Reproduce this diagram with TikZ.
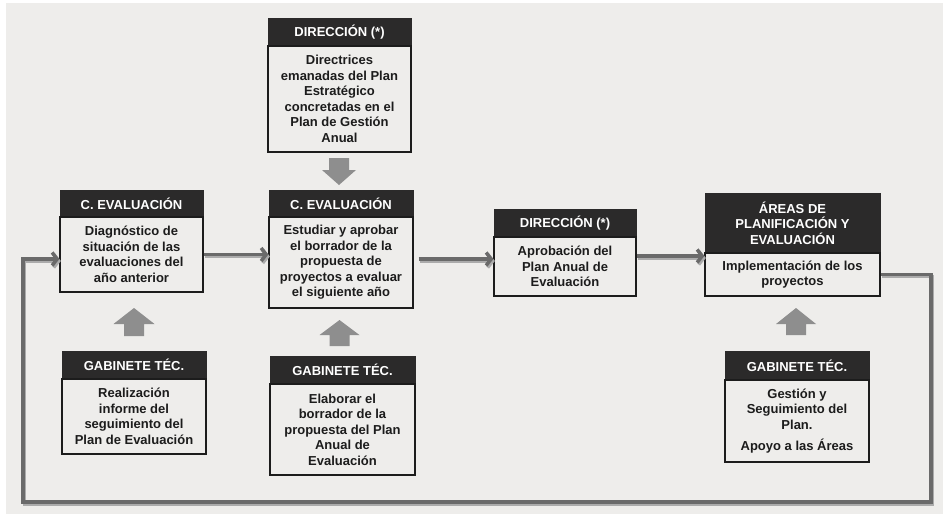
\documentclass[tikz,border=0pt]{standalone}
\usepackage{fontspec}
\setmainfont{Liberation Sans}
\usetikzlibrary{arrows.meta,calc}
\definecolor{bgc}{HTML}{EEEDEB}
\definecolor{hdc}{HTML}{2B2A2A}
\definecolor{lnc}{HTML}{6A6A6A}
\definecolor{shc}{HTML}{ABABAB}
\definecolor{blk}{HTML}{8E8E8E}
\definecolor{txc}{HTML}{1C1C1C}
\newcommand\blkup[5]{% cx, top, base, bottom, halfhead
  \fill[blk] (#1-#5,#3) -- (#1,#2) -- (#1+#5,#3) -- (#1+10,#3) -- (#1+10,#4) -- (#1-10,#4) -- (#1-10,#3) -- cycle;}
\begin{document}
\begin{tikzpicture}[x=1pt,y=-1pt,
  hdr/.style={fill=hdc,draw=hdc,line width=0.8pt,text=white,inner sep=0pt,align=center,
    font=\bfseries\fontsize{13}{15.3}\selectfont},
  bodybox/.style={fill=bgc,draw=txc,line width=1.3pt,text=txc,inner sep=0pt,align=center,
    font=\bfseries\fontsize{13}{15.5}\selectfont},
  conn/.style={draw=lnc,line width=3.5pt,line join=miter,
    -{Straight Barb[length=5pt,width=13pt]},
    preaction={draw=shc,line width=3.5pt,transform canvas={shift={(1.5pt,-2pt)}}}}
  ]
\useasboundingbox (0,0) rectangle (946,525);
\fill[white] (0,0) rectangle (946,525);
\fill[bgc] (6,3) rectangle (943,514);

% top Direccion
\node[hdr,minimum width=143,minimum height=28] (dtH) at (339.5,32) {DIRECCIÓN (*)};
\node[bodybox,minimum width=143,minimum height=106] (dtB) at (339.5,99)
  {Directrices\\emanadas del Plan\\Estratégico\\concretadas en el\\Plan de Gestión\\Anual};

% left C. Evaluacion
\node[hdr,minimum width=143,minimum height=27] (lcH) at (131.5,203.5) {C. EVALUACIÓN};
\node[bodybox,minimum width=143,minimum height=75] (lcB) at (131.5,254.5)
  {Diagnóstico de\\situación de las\\evaluaciones del\\año anterior};

% middle C. Evaluacion
\node[hdr,minimum width=144,minimum height=27] (mcH) at (341,203.5) {C. EVALUACIÓN};
\node[bodybox,minimum width=144,minimum height=91] (mcB) at (341,262.5)
  {Estudiar y aprobar\\el borrador de la\\propuesta de\\proyectos a evaluar\\el siguiente año};

% right Direccion
\node[hdr,minimum width=142,minimum height=28] (rdH) at (565,223) {DIRECCIÓN (*)};
\node[bodybox,minimum width=142,minimum height=59] (rdB) at (565,266.5)
  {Aprobación del\\Plan Anual de\\Evaluación};

% Areas
\node[hdr,minimum width=175,minimum height=60] (arH) at (792.5,223)
  {ÁREAS DE\\PLANIFICACIÓN Y\\EVALUACIÓN};
\node[bodybox,minimum width=175,minimum height=43] (arB) at (792.5,274.5)
  {Implementación de los\\proyectos};

% Gabinete left
\node[hdr,minimum width=144,minimum height=28] (glH) at (134,365) {GABINETE TÉC.};
\node[bodybox,minimum width=144,minimum height=75] (glB) at (134,416.5)
  {Realización\\informe del\\seguimiento del\\Plan de Evaluación};

% Gabinete middle
\node[hdr,minimum width=145,minimum height=28] (gmH) at (342.5,370) {GABINETE TÉC.};
\node[bodybox,minimum width=145,minimum height=91] (gmB) at (342.5,429.5)
  {Elaborar el\\borrador de la\\propuesta del Plan\\Anual de\\Evaluación};

% Gabinete right
\node[hdr,minimum width=144,minimum height=29] (grH) at (797,365.5) {GABINETE TÉC.};
\node[bodybox,minimum width=144,minimum height=82] (grB) at (797,421)
  {Gestión y\\Seguimiento del\\Plan.\\[6pt]Apoyo a las Áreas};

% block arrows
\fill[blk] (329,158) -- (349,158) -- (349,170) -- (356,170) -- (339,185) -- (322,170) -- (329,170) -- cycle;
\blkup{134}{308}{324}{336}{20.5}
\blkup{339.5}{320}{335}{346}{20}
\blkup{796}{308}{324}{335}{20}

% connectors
\draw[conn] (lcB.east) -- (lcB.east -| mcB.west);
\draw[conn] ([xshift=5pt,yshift=3.5pt]mcB.east) -- ([yshift=3.5pt]mcB.east -| rdB.west);
\draw[conn] ([yshift=10.5pt]rdB.east) -- ([yshift=10.5pt]rdB.east -| arB.west);

\coordinate (c1) at (931,274.5);
\coordinate (c2) at (931,502);
\coordinate (c3) at (23,502);
\coordinate (c4) at (23,259);
\draw[conn] (arB.east) -- (c1) -- (c2) -- (c3) -- (c4) -- (c4 -| lcB.west);
\end{tikzpicture}
\end{document}
